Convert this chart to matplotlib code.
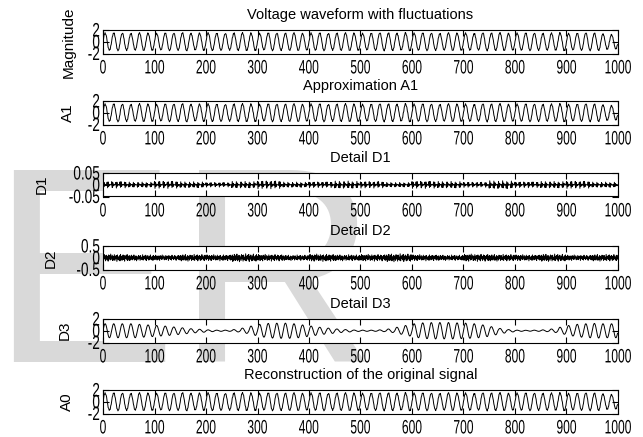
import numpy as np
import matplotlib.pyplot as plt
from matplotlib.patheffects import AbstractPathEffect
from matplotlib.transforms import Affine2D

# samples and cycles of the fundamental
n_samples = 1000
n_cycles = 60

# amplitude of each cycle of the measured voltage
sig_amp = [1.45, 1.5, 1.45, 1.4, 1.5, 1.45, 1.4, 1.5, 1.45, 1.5, 1.4, 1.45,
           1.5, 1.45, 1.4, 1.45, 1.5, 1.45, 1.4, 1.5, 1.45, 1.45, 1.5, 1.4,
           1.45, 1.5, 1.4, 1.45, 1.5, 1.45, 1.4, 1.45, 1.5, 1.45, 1.4, 1.5,
           1.45, 1.5, 1.45, 1.4, 1.5, 1.45, 1.45, 1.4, 1.5, 1.45, 1.5, 1.4,
           1.45, 1.5, 1.45, 1.4, 1.45, 1.5, 1.4, 1.45, 1.5, 1.45, 1.3, 1.2]

# amplitude of each cycle of detail D3
d3_amp = [1.2, 1.2, 1.2, 1.2, 1.1, 1.0,
          0.9, 0.8, 0.65, 0.5, 0.35, 0.25,
          0.15, 0.1, 0.1, 0.2, 0.45, 0.8,
          1.1, 1.25, 1.3, 1.3, 1.2, 1.0,
          0.8, 0.6, 0.45, 0.3, 0.2, 0.12,
          0.1, 0.1, 0.15, 0.3, 0.6, 0.9,
          1.2, 1.35, 1.4, 1.4, 1.4, 1.35,
          1.3, 1.2, 1.0, 0.7, 0.4, 0.2,
          0.1, 0.08, 0.1, 0.15, 0.3, 0.6,
          0.9, 1.1, 1.2, 1.25, 1.2, 1.2]

# detail D1: 50-sample block and block scale
d1_block = [0.012, -0.014, 0.010, -0.006, 0.002, -0.001, 0.001, -0.002,
            0.011, -0.013, 0.012, -0.007, 0.002, -0.002, 0.001, 0.000, -0.001,
            0.013, -0.012, 0.009, -0.005, 0.001, -0.002, 0.002, 0.000,
            0.010, -0.014, 0.011, -0.006, 0.002, -0.001, 0.001, -0.002,
            0.012, -0.011, 0.013, -0.007, 0.002, -0.001, 0.000, 0.001, -0.002,
            0.011, -0.013, 0.010, -0.006, 0.001, -0.002, 0.001, 0.000]
d1_scale = [1.0, -0.8, 1.1, -0.9, 0.7, -1.0, 1.2, -0.8, 0.9, -1.1,
            1.0, -0.7, 1.1, -1.0, 0.8, -1.2, 0.9, -1.0, 1.1, -0.8]

# detail D2: 50-sample block and block scale
d2_block = [0.06, -0.09, 0.12, -0.04, 0.08, -0.11, 0.03, 0.09, -0.07, 0.05,
            -0.12, 0.10, -0.03, 0.07, -0.08, 0.13, -0.06, 0.02, 0.09, -0.10,
            0.04, -0.07, 0.11, -0.09, 0.06, -0.02, 0.08, -0.13, 0.10, -0.05,
            0.03, -0.08, 0.07, -0.11, 0.12, -0.04, 0.05, -0.09, 0.02, 0.10,
            -0.06, 0.08, -0.12, 0.04, -0.03, 0.09, -0.07, 0.11, -0.10, 0.05]
d2_scale = [1.2, -1.0, 0.9, -1.1, 1.0, -1.3, 1.1, -0.9, 1.2, -1.0,
            1.1, -1.3, 1.0, -0.9, 1.2, -1.1, 1.0, -1.2, 0.9, -1.1]

titles = ["Voltage waveform with fluctuations", "Approximation A1", "Detail D1",
          "Detail D2", "Detail D3", "Reconstruction of the original signal"]
ylabels = ["Magnitude", "A1", "D1", "D2", "D3", "A0"]
ylims = [2, 2, 0.05, 0.5, 2, 2]
ytick_labels = [["-2", "0", "2"], ["-2", "0", "2"], ["-0.05", "0", "0.05"],
                ["-0.5", "0", "0.5"], ["-2", "0", "2"], ["-2", "0", "2"]]


class Narrow(AbstractPathEffect):
    # squeeze glyphs horizontally, like the tall screen font of the original
    def __init__(self, sx, anchor="center"):
        super().__init__()
        self.sx = sx
        self.anchor = anchor

    def draw_path(self, renderer, gc, tpath, affine, rgbFace=None):
        ext = tpath.get_extents()
        x0 = (ext.x0 + ext.x1) / 2 if self.anchor == "center" else ext.x1
        squeeze = Affine2D().translate(-x0, 0).scale(self.sx, 1).translate(x0, 0)
        renderer.draw_path(gc, tpath, squeeze + affine, rgbFace)


t = np.arange(n_samples)
cyc = (t * n_cycles) // n_samples
wave = np.sin(2 * np.pi * n_cycles * t / n_samples)
n_blocks = n_samples // len(d1_block)
d1 = np.tile(d1_block, n_blocks) * np.repeat(d1_scale, len(d1_block))
d2 = np.tile(d2_block, n_blocks) * np.repeat(d2_scale, len(d2_block))
signal = np.array(sig_amp)[cyc] * wave + d2 + d1
a1 = signal - d1
d3 = np.array(d3_amp)[cyc] * wave
a0 = a1 + d1
series = [signal, a1, d1, d2, d3, a0]

W, H = 643, 437
fig = plt.figure(figsize=(W / 100, H / 100), dpi=100)

# journal watermark behind the axes
fig.text(-10 / W, 1 - 362 / H, "ER", fontsize=201, family="Liberation Sans",
         color="#d9d9d9", ha="left", va="baseline", zorder=-1)

tops = [30, 101, 173, 246, 319, 390]
label_x = [-0.052, -0.054, -0.105, -0.087, -0.06, -0.056]
left, right, h = 103, 618, 23.5

for i, y in enumerate(series):
    ax = fig.add_axes([left / W, 1 - (tops[i] + h) / H, (right - left) / W, h / H])
    ax.plot(t, y, color="black", lw=0.7)
    ax.set_xlim(0, 1000)
    ax.set_ylim(-ylims[i], ylims[i])
    ax.set_xticks(range(0, 1001, 100))
    ax.set_yticks([-ylims[i], 0, ylims[i]])
    ax.set_yticklabels(ytick_labels[i])
    ax.tick_params(direction="in", top=True, right=True, length=4, width=0.8,
                   labelsize=14)
    ax.tick_params(axis="x", pad=5)
    ax.tick_params(axis="y", pad=2)
    for lab in ax.get_xticklabels():
        lab.set_family("Liberation Sans")
        lab.set_path_effects([Narrow(0.62, "center")])
    for lab in ax.get_yticklabels():
        lab.set_family("Liberation Sans")
        lab.set_path_effects([Narrow(0.7, "right")])
    for s in ax.spines.values():
        s.set_linewidth(0.8)
    ax.set_title(titles[i], fontsize=10.5, family="Liberation Sans", pad=8)
    ax.set_ylabel(ylabels[i], fontsize=11, family="Liberation Sans")
    ax.yaxis.set_label_coords(label_x[i], 0.5)

fig.savefig("out.png", dpi=100)
